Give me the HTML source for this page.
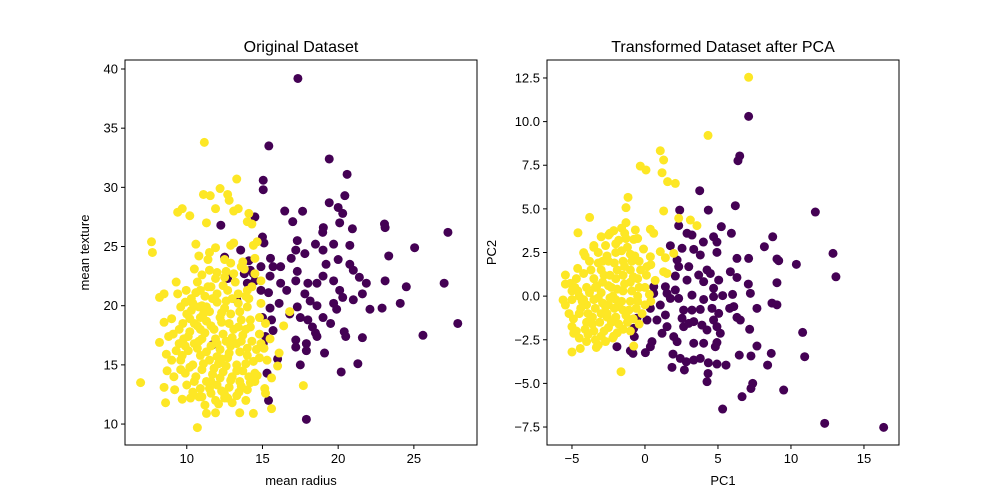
<!DOCTYPE html>
<html><head><meta charset="utf-8"><style>
body{margin:0;background:#fff;}
svg{display:block;font-family:"Liberation Sans","DejaVu Sans",sans-serif;}
</style></head><body>
<svg id="fig" width="1000" height="500"></svg>
<script>
const P='#440154', Y='#fde725';
// Left chart: [mean radius, mean texture]
const leftPurple=[[17.34,39.2],[15.42,33.5],[19.41,32.4],[20.59,31.1],[20.44,29.3],[19.41,28.7],[20.0,28.3],[20.3,27.8],[16.47,28.0],[17.65,27.98],[17.0,27.1],[12.25,26.8],[20.1,27.0],[20.94,26.5],[23.06,26.9],[23.1,26.6],[27.25,26.2],[19.02,26.6],[18.98,26.2],[15.05,30.6],[15.05,29.8],[14.5,27.5],[15.0,25.8],[15.1,25.3],[17.3,25.5],[17.2,24.7],[18.5,25.2],[19.0,24.7],[19.7,25.2],[20.77,25.1],[25.05,24.9],[23.34,24.2],[13.56,24.7],[15.53,24.0],[16.2,23.3],[16.9,24.0],[17.8,24.4],[20.0,23.9],[19.2,23.5],[20.77,23.5],[21.0,23.0],[14.1,23.8],[14.2,23.0],[14.5,22.1],[14.9,21.3],[17.3,22.9],[17.2,22.1],[19.0,22.5],[19.7,22.1],[16.2,21.9],[21.4,22.4],[21.86,21.9],[23.1,22.1],[24.5,21.6],[27.0,21.9],[18.0,21.9],[18.6,21.9],[20.1,21.3],[20.3,20.7],[15.4,21.1],[16.6,21.3],[17.8,21.0],[18.15,20.4],[18.6,20.0],[21.0,20.5],[21.6,21.0],[16.1,20.2],[15.5,19.8],[15.6,18.8],[19.7,20.2],[19.9,19.7],[22.1,19.7],[22.9,19.8],[24.1,20.2],[17.3,19.9],[16.8,19.3],[17.5,19.0],[19.0,19.0],[19.5,18.5],[18.0,18.8],[18.3,18.2],[15.0,19.0],[15.7,17.9],[27.9,18.5],[25.6,17.5],[20.4,17.8],[20.5,17.4],[21.6,17.3],[18.5,17.7],[18.6,17.4],[17.2,17.1],[17.2,16.5],[17.9,16.8],[17.9,16.2],[19.1,16.0],[15.2,17.4],[15.05,16.8],[16.0,15.5],[17.5,15.0],[21.3,15.1],[20.2,14.4],[15.3,14.3],[15.4,12.0],[17.9,10.4],[11.7,16.7],[12.5,24.1],[12.7,22.3],[13.3,20.5],[13.8,22.7],[14.4,22.7],[14.0,21.9],[14.9,23.3],[15.7,23.3],[15.5,22.5]];
const leftYellow=[[11.16,33.8],[13.3,30.7],[12.2,29.9],[11.1,29.4],[11.55,29.3],[12.7,29.4],[12.8,28.9],[9.4,27.9],[9.7,28.2],[10.2,27.6],[11.9,28.2],[13.1,28.0],[13.4,28.2],[11.3,27.0],[14.1,27.8],[14.0,27.1],[14.3,26.9],[7.67,25.4],[7.73,24.5],[10.6,25.2],[11.9,24.9],[11.5,24.5],[11.4,23.9],[12.9,25.1],[13.1,25.3],[14.4,25.1],[14.65,25.4],[10.8,24.2],[14.5,24.0],[10.5,23.1],[12.5,23.9],[13.7,23.7],[13.6,23.3],[12.0,22.8],[11.0,22.6],[9.3,22.0],[9.4,21.0],[9.96,21.3],[8.2,20.7],[8.5,21.0],[10.7,22.0],[10.9,21.3],[11.6,21.6],[12.5,22.4],[13.1,22.7],[14.5,22.7],[14.9,22.1],[14.0,21.3],[14.1,20.6],[9.6,19.9],[10.4,20.2],[11.3,19.9],[8.5,18.6],[9.0,18.9],[9.74,18.5],[10.5,18.5],[14.2,18.2],[14.9,20.2],[16.8,19.5],[16.4,18.3],[8.2,16.9],[8.8,17.4],[9.5,16.8],[10.1,17.4],[8.65,15.9],[9.0,15.4],[9.6,15.4],[10.2,14.8],[8.7,14.5],[9.15,14.0],[6.95,13.5],[8.5,13.1],[9.2,12.9],[9.7,12.1],[10.25,12.2],[10.8,12.3],[8.6,11.8],[10.9,13.0],[11.6,13.6],[11.3,10.9],[11.9,10.95],[10.7,9.7],[13.5,10.95],[14.4,10.9],[12.5,12.2],[12.7,12.2],[13.45,12.7],[14.0,12.9],[15.15,13.0],[15.2,12.6],[15.6,11.3],[15.6,13.9],[16.1,16.0],[16.0,14.9],[17.7,13.25],[14.8,17.6],[14.9,16.8],[15.1,16.4],[14.65,14.1],[14.5,13.6],[11,20],[11.5,19.5],[12,20.3],[12.5,19.8],[13,20.6],[13.5,19.5],[14,19.9],[12.2,19],[11.3,18.7],[10.7,18.3],[12.8,18.5],[13.4,18.2],[14.2,18.8],[11.8,18],[12.4,17.6],[13,17.3],[13.7,17.5],[14.3,17],[11,17.2],[10.5,16.8],[11.6,16.6],[12.2,16.3],[12.9,16.6],[13.5,16.1],[14,15.8],[10.9,15.8],[11.5,15.4],[12.1,15.1],[12.7,15.6],[13.3,15],[14.4,15.3],[10.4,15],[11,14.6],[11.7,14.2],[12.4,14.4],[13,14],[13.7,14.5],[10.6,14],[11.3,13.6],[12,13.3],[12.8,13.1],[13.5,13.6],[11.6,12.6],[12.3,12.8],[10.2,17.8],[10,19.3],[10.8,19.9],[12,21],[12.7,21.3],[13.4,21],[11.4,21.6],[10.3,20.6],[9.8,17.2],[9.5,18],[10.1,16.2],[9.7,15.8],[14.6,16.3],[14.8,19],[13.9,20.8],[13.2,22],[11.9,22.3],[12.6,22.9],[9.6,14.6],[10,13.3],[11,12.3],[13.3,12.4],[14.2,13.5],[14.5,14.3],[15.2,18.5],[15.5,17.2],
[10.3,19.6],[10.9,19.0],[11.6,18.3],[12.3,18.6],[12.9,19.3],[13.6,18.8],[11.2,17.7],[11.9,17.2],[12.6,17.0],[13.3,16.8],[14.0,16.4],[10.7,16.4],[11.3,16.1],[12.0,15.7],[12.6,14.9],[13.3,14.5],[13.9,15.1],[11.1,15.1],[11.8,14.7],[12.2,13.9],[12.9,13.7],[13.6,13.2],[11.5,13.0],[12.5,12.5],[13.9,12.0],[12.1,11.7],[11.2,11.6],[10.5,13.6],[10.8,17.0],[12.0,16.8],[12.8,16.0],[13.1,18.0],[13.9,18.0],[12.6,20.4],[13.4,20.2],[11.7,20.6],[11.1,19.3],[12.3,19.4],[14.3,21.6],[13.8,23.1],[12.9,23.6],[11.5,23.0],[10.6,21.1],[9.9,20.3],[10.9,18.0],[9.9,16.6],[9.3,16.2],[9.1,17.6],[9.9,14.3],[10.4,12.7],[11.9,12.0],[13.0,11.8],[14.8,15.6],[15.3,15.4],[14.1,14.0],[12.4,21.7],[11.2,20.8],[10.2,18.9],[13.6,17.0],[12.3,15.5]];
// Right chart: [PC1, PC2]
const rightPurple=[[7.1,10.3],[6.49,8.03],[6.37,7.76],[3.75,6.04],[6.19,5.18],[2.38,4.93],[4.34,4.93],[11.67,4.82],[2.31,4.04],[2.88,3.6],[3.22,3.5],[5.23,3.98],[5.92,3.6],[8.75,3.4],[4.7,3.4],[4.0,3.1],[4.93,3.1],[8.18,2.83],[1.74,2.89],[2.54,2.74],[3.34,2.68],[3.79,2.36],[4.93,2.51],[12.88,2.45],[6.3,2.16],[7.1,2.16],[9.04,2.13],[9.16,2.03],[10.37,1.82],[2.2,2.07],[2.31,1.69],[3.0,1.69],[4.25,1.5],[4.48,1.3],[5.85,1.4],[6.3,1.07],[5.05,0.92],[13.08,1.11],[2.08,1.15],[2.88,0.92],[3.68,1.21],[4.02,0.83],[7.08,0.69],[9.04,0.77],[0.6,0.54],[1.4,0.54],[2.08,0.35],[4.7,0.45],[1.74,-0.13],[2.31,-0.13],[3.22,0.06],[4.02,-0.19],[4.7,-0.03],[5.32,0.03],[6.0,0.1],[7.22,0.16],[0.37,-0.7],[0.82,-1.37],[1.4,-1.08],[2.65,-0.8],[3.22,-0.8],[3.79,-0.76],[4.59,-0.7],[5.05,-0.99],[5.8,-0.7],[6.08,-0.6],[7.67,-0.7],[8.7,-0.4],[9.04,-0.5],[-0.55,-1.27],[0.14,-1.37],[1.51,-1.75],[1.17,-2.13],[1.97,-2.32],[2.54,-1.27],[2.65,-1.75],[3.0,-1.56],[3.34,-1.46],[3.9,-1.66],[4.25,-1.94],[4.7,-1.37],[5.16,-2.13],[4.93,-1.75],[6.3,-1.22],[6.53,-1.37],[7.17,-1.9],[10.8,-2.08],[-0.77,-1.85],[-0.73,-2.32],[0.48,-2.61],[0.37,-2.9],[2.2,-2.61],[3.34,-2.7],[4.02,-2.7],[4.93,-2.66],[4.82,-2.9],[-1.92,-2.9],[-1.0,-3.13],[-0.82,-3.28],[0.03,-3.24],[1.92,-3.32],[2.42,-3.57],[2.83,-3.76],[3.34,-3.66],[3.79,-3.57],[7.67,-2.86],[6.46,-3.38],[7.26,-3.43],[8.65,-3.28],[8.4,-3.95],[10.94,-3.47],[4.34,-3.82],[4.93,-3.89],[5.55,-3.95],[1.85,-4.08],[2.7,-4.23],[4.32,-4.43],[4.25,-4.9],[7.38,-5.0],[7.26,-5.29],[9.5,-5.38],[6.65,-5.76],[5.32,-6.47],[12.31,-7.29],[16.35,-7.52],[0.6,0.16],[1.05,-0.51],[1.51,0.16]];
const rightYellow=[[7.1,12.54],[4.32,9.21],[1.05,8.33],[1.28,7.8],[-0.32,7.45],[0.07,7.23],[1.17,7.07],[1.55,6.56],[2.08,6.46],[-1.16,5.66],[-1.3,5.07],[-3.79,4.51],[1.28,4.88],[2.31,4.46],[3.11,4.36],[3.56,4.04],[-4.59,3.63],[-1.3,4.21],[-1.39,3.6],[-0.66,3.79],[-0.77,3.25],[0.37,3.83],[0.6,3.6],[-2.49,3.5],[-2.14,3.75],[-3.51,2.8],[-4.2,2.49],[-4.61,1.59],[-5.45,1.21],[-5.11,0.73],[-5.45,0.69],[-5.61,-0.22],[-5.45,-0.51],[1.05,2.55],[1.4,2.2],[1.97,2.45],[1.28,1.4],[1.51,1.3],[0.37,2.26],[0.14,1.69],[-5.0,-1.75],[-4.88,-2.13],[-5.0,-3.2],[-4.43,-3.0],[-3.33,-2.94],[-2.14,-2.29],[-0.77,-2.86],[-1.64,-4.33],[-4.5,0],[-4,0.5],[-3.5,1],[-3,1.5],[-2.5,2],[-2,2.5],[-1.5,2],[-1,1.5],[-0.5,1],[0,0.5],[-4.5,-1],[-4,-1.5],[-3.5,-2],[-3,-2.3],[-2.5,-1.8],[-2,-1.2],[-1.5,-0.8],[-1,-0.3],[-0.5,0],[0,-0.5],[-4,-0.5],[-3.5,-0.2],[-3,0.2],[-2.5,0.6],[-2,1],[-1.5,1.2],[-1,0.8],[-0.5,-0.3],[-3,-1],[-2.5,-0.5],[-2,-0.2],[-1.5,0.3],[-3.8,2],[-3.2,2.5],[-2.7,2.9],[-1.8,3.2],[-1.2,2.8],[-0.7,2.3],[0.4,1.8],[-4.2,1.3],[-4.8,0.5],[-5,-0.2],[-4.7,-2],[-4,-2.6],[-3.2,-2.8],[-2.2,-2.4],[-1.5,-1.9],[-0.8,-1.3],[-0.2,-1],[0.4,-0.3],[-2.8,1.2],[-3.3,0.6],[-2.2,0],[-1.8,-0.6],[-2.6,-1.2],[-3.6,-1.2],[-4.3,-0.3],[-1.2,-1.5],[-0.3,1.5],[0.7,0.9],[-2.4,3.6],[-1.6,3.9],[-3,3.4],[-0.5,3.3],
[-4.6,0.3],[-4.2,-0.2],[-3.8,0.2],[-3.4,0.5],[-2.9,0.8],[-2.4,1.2],[-1.9,1.5],[-1.4,1.7],[-0.9,2.0],[-4.4,-0.7],[-3.9,-1.0],[-3.4,-0.7],[-2.9,-0.4],[-2.4,-0.1],[-1.9,0.4],[-1.4,0.7],[-0.9,0.3],[-0.4,0.5],[-4.1,-1.9],[-3.6,-1.6],[-3.1,-1.5],[-2.6,-1.0],[-2.1,-0.7],[-1.6,-0.3],[-1.1,-0.8],[-0.6,-0.7],[-3.4,-2.5],[-2.8,-2.0],[-2.3,-1.5],[-1.8,-1.6],[-1.0,-2.0],[-3.7,1.5],[-3.2,1.9],[-2.6,2.3],[-2.1,1.9],[-1.6,2.6],[-1.0,2.4],[-0.4,2.0],[0.1,1.2],[-4.7,1.0],[-5.0,0.3],[-5.2,-1.0],[-4.9,-1.3],[-4.5,-2.4],[-3.9,-2.2],[-2.7,-2.6],[-1.9,-2.1],[-0.4,-1.6],[0.3,0.1],[-0.1,2.7],[-2.9,2.0],[-3.5,2.9],[-4.1,2.3],[-2.0,3.0],[-1.3,3.3],[-2.3,0.5],[-2.7,-0.6],[-3.2,-0.1],[-1.3,-1.1],[-0.8,1.1]];
const leftXTicks=[10,15,20,25];
const leftYTicks=[10,15,20,25,30,35,40];
const rightXTicks=[-5,0,5,10,15];
const rightYTicks=[-7.5,-5.0,-2.5,0.0,2.5,5.0,7.5,10.0,12.5];

const NS='http://www.w3.org/2000/svg';
const svg=document.getElementById('fig');
function mk(tag,attrs,parent){const e=document.createElementNS(NS,tag);for(const k in attrs)e.setAttribute(k,attrs[k]);(parent||svg).appendChild(e);return e;}

function chart(cfg){
  const g=mk('g',{});
  
  
  const L=cfg.x0,R=cfg.x1,T=60,B=445;
  const sx=v=>L+(v-cfg.xmin)/(cfg.xmax-cfg.xmin)*(R-L);
  const sy=v=>B-(v-cfg.ymin)/(cfg.ymax-cfg.ymin)*(B-T);
  const pg=mk('g',{},g);
  
  
  cfg.purple.forEach(d=>{const c=mk('circle',{cx:sx(d[0]),cy:sy(d[1]),r:4.5,fill:P},pg);
    
    });
  cfg.yellow.forEach(d=>{const c=mk('circle',{cx:sx(d[0]),cy:sy(d[1]),r:4.5,fill:Y},pg);
    
    });
  const fr=mk('rect',{x:L,y:T,width:R-L,height:B-T,fill:'none',stroke:'#000','stroke-width':1},g);
  
  
  cfg.xt.forEach(v=>{const x=sx(v);mk('line',{x1:x,x2:x,y1:B,y2:B+4,stroke:'#000'},g);
    const t=mk('text',{x:x,y:B+18,'text-anchor':'middle','font-size':13},g);t.textContent=cfg.xfmt(v);
    
    });
  cfg.yt.forEach(v=>{const y=sy(v);mk('line',{x1:L-4,x2:L,y1:y,y2:y,stroke:'#000'},g);
    const t=mk('text',{x:L-7,y:y+4.5,'text-anchor':'end','font-size':13},g);t.textContent=cfg.yfmt(v);
    
    });
  const ti=mk('text',{x:(L+R)/2,y:52,'text-anchor':'middle','font-size':16},g);ti.textContent=cfg.title;
  
  
  const xl=mk('text',{x:(L+R)/2,y:485,'text-anchor':'middle','font-size':13},g);xl.textContent=cfg.xlabel;
  
  
  const yx=cfg.ylx,yy=(T+B)/2;
  const yl=mk('text',{x:yx,y:yy,'text-anchor':'middle','font-size':13,transform:`rotate(-90 ${yx} ${yy})`},g);yl.textContent=cfg.ylabel;
  
  
}
chart({name:'original-dataset-chart',x0:125,x1:477,xmin:5.92,xmax:29.17,ymin:8.23,ymax:40.76,
  purple:leftPurple,yellow:leftYellow,xt:leftXTicks,yt:leftYTicks,xfmt:v=>String(v),yfmt:v=>String(v),
  title:'Original Dataset',xlabel:'mean radius',ylabel:'mean texture',ylx:89});
chart({name:'pca-dataset-chart',x0:547,x1:899,xmin:-6.71,xmax:17.4,ymin:-8.53,ymax:13.53,
  purple:rightPurple,yellow:rightYellow,xt:rightXTicks,yt:rightYTicks,xfmt:v=>String(v).replace('-','\u2212'),yfmt:v=>v.toFixed(1).replace('-','\u2212'),
  title:'Transformed Dataset after PCA',xlabel:'PC1',ylabel:'PC2',ylx:496});
</script>
</body></html>
